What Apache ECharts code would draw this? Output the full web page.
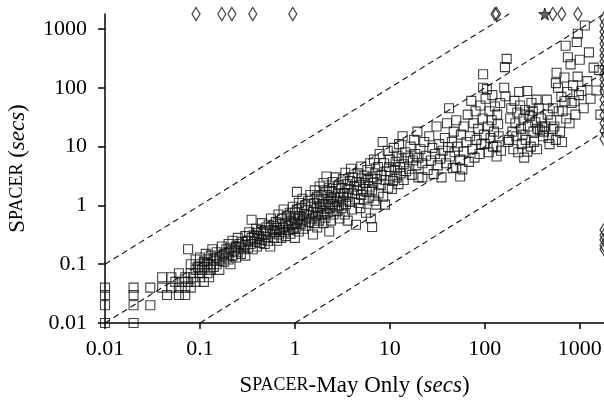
<!DOCTYPE html>
<html><head><meta charset="utf-8">
<script src="https://cdn.jsdelivr.net/npm/echarts@6.0.0/dist/echarts.min.js"></script>
<style>html,body{margin:0;padding:0;background:#fff}#c{width:604px;height:405px}</style>
</head><body><div id="c"></div>
<script>
const tickValues = [0.01, 0.1, 1, 10, 100, 1000];
const tickLabels = ['0.01', '0.1', '1', '10', '100', '1000'];
const timeLimit = 1800;
const axisMin = 0.01;
const guideRatios = [10, 1, 0.1, 0.01];

// points solved by both tools: [Spacer-May Only secs, Spacer secs]
const bothSolved = [
[0.01,0.01],[0.01,0.02],[0.01,0.03],[0.01,0.04],
[0.02,0.01],[0.02,0.02],[0.02,0.03],[0.02,0.04],
[0.03,0.02],[0.03,0.04],
[0.04,0.04],[0.04,0.06],[0.045,0.03],[0.05,0.04],[0.05,0.06],[0.055,0.05],[0.06,0.03],[0.06,0.04],[0.06,0.07],[0.065,0.05],[0.07,0.03],[0.07,0.04],[0.07,0.06],[0.075,0.05],[0.08,0.04],[0.08,0.07],[0.08,0.1],[0.075,0.18],
[0.085,0.06],[0.09,0.05],[0.09,0.08],[0.09,0.12],[0.095,0.09],[0.1,0.06],[0.1,0.07],[0.1,0.1],[0.1,0.13],[0.105,0.08],[0.11,0.05],[0.11,0.09],[0.11,0.11],[0.115,0.15],[0.12,0.07],[0.12,0.1],[0.12,0.12],[0.125,0.06],[0.13,0.08],[0.13,0.1],[0.13,0.14],[0.135,0.18],[0.14,0.09],[0.14,0.12],
[0.15,0.1],[0.15,0.13],[0.15,0.16],[0.16,0.08],[0.16,0.12],[0.17,0.14],[0.17,0.2],[0.18,0.11],[0.18,0.15],[0.19,0.13],[0.19,0.18],[0.2,0.12],[0.2,0.16],[0.2,0.22],[0.21,0.1],[0.21,0.19],[0.22,0.14],[0.22,0.25],[0.23,0.17],[0.24,0.13],[0.24,0.2],[0.25,0.16],[0.25,0.28],[0.26,0.22],[0.27,0.15],[0.27,0.19],[0.28,0.24],[0.29,0.18],[0.3,0.14],[0.3,0.21],[0.3,0.3],
[0.32,0.25],[0.32,0.19],[0.33,0.35],[0.34,0.22],[0.35,0.28],[0.35,0.57],[0.36,0.18],[0.37,0.31],[0.38,0.24],[0.39,0.4],[0.4,0.2],[0.4,0.27],[0.4,0.34],[0.42,0.3],[0.43,0.23],[0.44,0.38],[0.45,0.26],[0.45,0.5],[0.47,0.33],[0.48,0.22],[0.5,0.29],[0.5,0.42],[0.5,0.36],[0.52,0.25],[0.53,0.47],[0.55,0.2],[0.55,0.33],[0.56,0.6],[0.58,0.38],[0.6,0.28],[0.6,0.45],[0.62,0.35],[0.63,0.52],[0.65,0.25],[0.65,0.41],[0.67,0.7],[0.68,0.32],[0.7,0.48],[0.7,0.38],
[0.72,0.28],[0.73,0.6],[0.75,0.42],[0.76,0.85],[0.78,0.35],[0.8,0.5],[0.8,0.3],[0.82,0.65],[0.85,0.45],[0.86,0.38],[0.88,0.75],[0.9,0.55],[0.9,0.33],[0.92,0.48],[0.95,0.95],[0.95,0.4],[0.97,0.62],[1.0,0.5],[1.0,0.75],[1.0,0.28],[1.02,0.42],[1.05,1.7],[1.05,0.85],[1.08,0.58],[1.1,0.36],[1.1,1.1],[1.12,0.66],[1.15,0.48],[1.18,0.9],[1.2,0.55],[1.2,1.3],[1.22,0.4],[1.25,0.72],[1.28,1.0],[1.3,0.6],[1.3,0.45],[1.35,0.82],[1.38,1.2],[1.4,0.52],[1.42,0.68],[1.45,1.5],[1.48,0.95],[1.5,0.6],
[1.55,0.32],[1.55,0.78],[1.6,1.1],[1.6,0.5],[1.62,1.8],[1.65,0.65],[1.7,0.9],[1.7,1.4],[1.72,0.42],[1.75,0.75],[1.8,1.2],[1.8,0.55],[1.82,2.1],[1.85,0.95],[1.9,0.68],[1.9,1.5],[1.95,1.05],[2.0,0.5],[2.0,0.8],[2.0,1.3],[2.0,2.4],[2.05,1.8],[2.1,0.62],[2.1,1.0],[2.15,3.1],[2.2,1.5],[2.2,0.75],[2.25,1.15],[2.3,0.36],[2.3,2.0],[2.35,0.9],[2.4,1.3],[2.4,0.55],[2.45,1.7],[2.5,1.05],[2.5,2.5],[2.55,0.7],[2.6,1.4],[2.65,0.95],[2.7,1.9],[2.7,3.0],[2.75,1.2],[2.8,0.8],[2.85,1.6],[2.9,2.2],[2.9,1.0],[2.95,0.6],[3.0,1.35],
[3.1,2.0],[3.1,0.9],[3.2,1.2],[3.2,2.8],[3.3,1.6],[3.35,0.7],[3.4,3.6],[3.45,1.05],[3.5,2.3],[3.6,1.4],[3.6,0.55],[3.7,1.9],[3.8,2.6],[3.8,1.15],[3.9,4.2],[4.0,1.6],[4.0,0.85],[4.1,3.0],[4.2,2.1],[4.3,1.3],[4.4,0.47],[4.5,2.5],[4.5,1.8],[4.6,3.5],[4.7,1.1],[4.8,2.2],[4.9,0.9],[5.0,1.5],[5.0,2.9],[5.0,4.6],[5.2,1.9],[5.3,1.25],[5.4,3.2],[5.5,2.4],[5.6,0.75],[5.7,1.7],[5.8,4.0],[5.9,2.7],[6.0,1.35],[6.1,2.1],[6.2,5.2],[6.3,0.6],[6.4,3.0],[6.5,0.43],[6.5,1.8],[6.7,2.4],[6.8,6.0],[6.9,1.2],[7.0,3.5],
[7.2,1.03],[7.3,2.8],[7.5,4.5],[7.6,1.6],[7.8,7.5],[8.0,2.2],[8.2,3.3],[8.4,12],[8.5,1.4],[8.7,5.2],[8.9,1.03],[9.0,2.7],[9.2,3.8],[9.5,8.5],[9.6,2.0],[9.8,4.5],[10,3.2],[10,6.0],[10.5,1.9],[10.8,2.6],[11,9.5],[11.2,4.0],[11.5,5.5],[11.8,3.0],[12,7.0],[12.3,2.3],[12.5,11],[12.8,4.5],[13,3.5],[13.3,6.3],[13.6,15],[14,2.7],[14,5.0],[14.5,8.0],[14.8,3.8],
[15.5,6.5],[16,4.2],[16.5,10],[17,3.3],[17.5,5.8],[18,13],[18.5,7.5],[19,4.8],[19.5,18],[20,3.0],[20,6.5],[21,9.0],[22,3.0],[22,5.2],[23,12],[24,7.0],[25,4.0],[26,15],[27,5.8],[28,9.5],[29,3.4],[30,7.5],[31,22],[32,4.8],[33,11],[34,6.2],[35,3.0],[36,8.5],[38,14],[39,5.2],[40,25],[41,9.8],[42,45],[43,6.8],[45,12],[46,4.3],[47,18],[48,8.0],[50,4.4],[50,28],
[52,10],[55,3.1],[55,6.0],[56,16],[58,4.1],[60,22],[60,8.2],[64,12],[66,35],[68,5.5],[70,15],[72,60],[74,9.0],[76,25],[78,6.5],[80,40],[82,13],[85,20],[88,7.5],[90,50],[92,11],[95,30],[96,100],[96,170],[98,16],[100,11],[102,65],[105,95],[108,22],[110,8.0],[112,40],[115,14],[118,28],[120,75],[122,10],[125,18],[128,48],[133,6.8],[133,10],[135,35],[138,24],[140,15],[145,55],[148,8.5],
[160,100],[163,225],[165,72],[170,310],[175,12],[180,13],[185,30],[190,45],[195,18],[200,9.0],[205,60],[210,25],[215,15],[220,38],[225,8.0],[230,85],[235,50],[240,20],[245,11],[250,16],[255,30],[260,6.5],[265,42],[270,13],[280,88],[280,8.2],[285,22],[290,35],[300,33],[305,10],[310,55],[320,40],[325,18],[330,12],[340,26],[350,63],[355,9.0],[360,20],[370,45],[380,19],[390,30],[400,22],
[410,15],[420,18],[430,22],[450,63],[460,35],[470,14],[480,11],[500,28],[520,20],[520,45],[540,22],[560,13],[560,120],[570,180],[590,100],[600,40],[620,18],[640,70],[650,12],[660,40],[690,150],[690,59],[710,520],[720,30],[740,85],[750,330],[780,25],[800,250],[820,55],[850,110],[880,59],[900,35],[930,600],[950,155],[955,830],[980,75],[1000,300],[1040,88],[1100,45],[1130,1150],[1200,130],[1250,400],[1300,65],[1400,220],[1500,90],[1600,200],[1650,35]
];
// Spacer timed out (plotted at the time limit on y)
const spacerTimeoutX = [0.091, 0.17, 0.217, 0.36, 0.95, 128, 133, 520, 646, 955];
// star marker on the top row
const starX = [428];
// Spacer-May Only timed out (plotted at the time limit on x)
const mayTimeoutY = [1500, 1150, 900, 700, 560, 440, 350, 280, 220, 175, 140, 110, 88, 63, 47, 34, 25, 18.5, 13.5, 0.38, 0.31, 0.26, 0.21, 0.18];

const guideLines = guideRatios.map(k => {
  const x0 = Math.max(axisMin, axisMin / k), x1 = Math.min(timeLimit, timeLimit / k);
  return [[x0, x0 * k], [x1, x1 * k]];
});

const serif = 'Liberation Serif';
const fmt = v => {
  const i = tickValues.findIndex(t => Math.abs(Math.log10(t) - Math.log10(v)) < 1e-6);
  return i >= 0 ? tickLabels[i] : '';
};
const richName = {
  big: {fontFamily: serif, fontSize: 23, color: '#000'},
  sc: {fontFamily: serif, fontSize: 18, color: '#000'},
  n: {fontFamily: serif, fontSize: 23, color: '#000'},
  it: {fontFamily: serif, fontSize: 23, fontStyle: 'italic', color: '#000'}
};
const axisCommon = {
  type: 'log', logBase: 10, min: axisMin, max: timeLimit,
  nameLocation: 'middle',
  axisLine: {show: true, onZero: false, lineStyle: {color: '#000', width: 1.5}},
  axisTick: {show: true, inside: false, customValues: tickValues, lineStyle: {color: '#000', width: 1.5}},
  axisLabel: {customValues: tickValues, formatter: fmt, fontFamily: serif, fontSize: 22, color: '#000'},
  splitLine: {show: false}, minorTick: {show: false}
};
const squareStyle = {color: 'rgba(0,0,0,0)', borderColor: '#111', borderWidth: 1.1};
const diamond = 'path://M5,0L10,10L5,20L0,10Z';
const star = 'path://M50,0L61,35L98,35L68,57L79,91L50,70L21,91L32,57L2,35L39,35Z';

const chart = echarts.init(document.getElementById('c'), null, {renderer: 'canvas'});
chart.setOption({
  animation: false,
  backgroundColor: '#fff',
  grid: {left: 105, right: 0, top: 14, bottom: 82, containLabel: false, outerBoundsMode: 'none'},
  xAxis: Object.assign({}, axisCommon, {
    name: '{big|S}{sc|PACER}{n|-May Only (}{it|secs}{n|)}', nameGap: 51,
    nameTextStyle: {rich: richName},
    axisTick: Object.assign({}, axisCommon.axisTick, {length: 6}),
    axisLabel: Object.assign({}, axisCommon.axisLabel, {margin: 15})
  }),
  yAxis: Object.assign({}, axisCommon, {
    name: '{big|S}{sc|PACER}{n| (}{it|secs}{n|)}', nameGap: 76, nameRotate: 90,
    nameTextStyle: {rich: richName},
    axisTick: Object.assign({}, axisCommon.axisTick, {length: 7}),
    axisLabel: Object.assign({}, axisCommon.axisLabel, {margin: 18})
  }),
  series: [
    ...guideLines.map(d => ({
      type: 'line', data: d, symbol: 'none', silent: true, clip: false,
      lineStyle: {color: '#111', width: 1.1, type: [6, 4]}
    })),
    {type: 'scatter', data: bothSolved, symbol: 'rect', symbolSize: 9, itemStyle: squareStyle, clip: false},
    {type: 'scatter', data: spacerTimeoutX.map(x => [x, timeLimit]), symbol: diamond, symbolSize: [8, 13],
     itemStyle: {color: 'rgba(0,0,0,0)', borderColor: '#111', borderWidth: 1.3}, clip: false},
    {type: 'scatter', data: mayTimeoutY.map(y => [timeLimit, y]), symbol: diamond, symbolSize: [8, 13],
     itemStyle: {color: 'rgba(0,0,0,0)', borderColor: '#111', borderWidth: 1.3}, clip: false},
    {type: 'scatter', data: starX.map(x => [x, timeLimit]), symbol: star, symbolSize: 12,
     itemStyle: {color: '#444', borderColor: '#000', borderWidth: 1}, clip: false}
  ]
});
</script></body></html>
